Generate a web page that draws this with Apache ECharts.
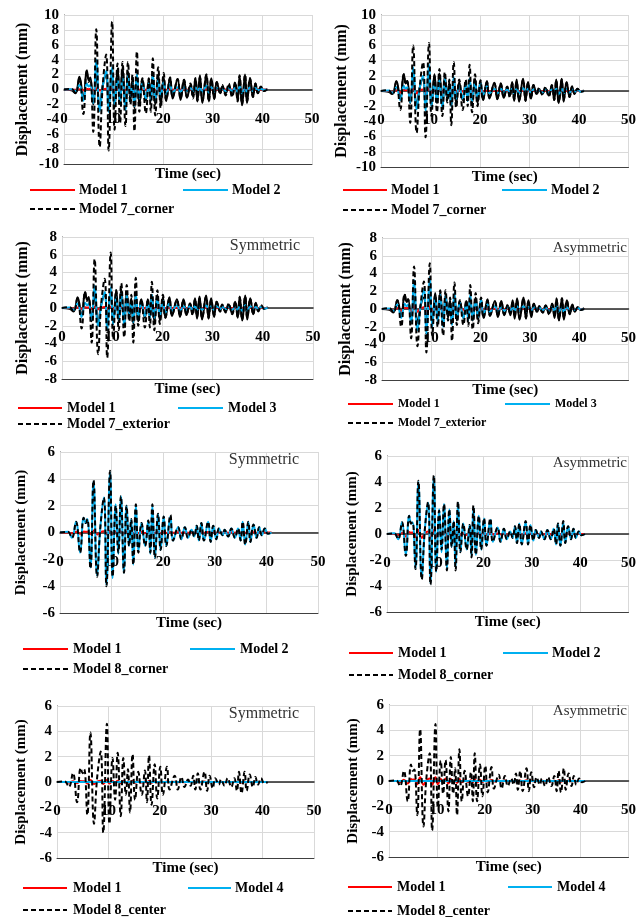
<!DOCTYPE html>
<html><head><meta charset="utf-8">
<script src="https://cdn.jsdelivr.net/npm/echarts@6/dist/echarts.min.js"></script>
<style>html,body{margin:0;padding:0;background:#fff}#c{width:639px;height:917px}</style>
</head><body><div id="c"></div>
<script>
// ---- shared time instants (s) of the read extrema ----
const T = [0,1.5,2.3,3.1,3.9,4.6,5.0,5.3,5.9,6.5,
 7.2,7.8,8.5,9.0,9.7,10.2,10.8,11.3,11.8,12.4,
 12.9,13.4,13.8,14.2,14.7,15.2,15.8,16.5,17.1,17.5,
 17.9,18.4,19.0,19.5,20.1,20.6,21.4,21.9,22.9,23.5,
 24.2,24.8,25.5,26.0,26.5,26.9,27.4,27.9,28.7,29.2,
 29.7,30.3,30.8,31.5,31.9,32.6,33.2,33.9,34.5,35.0,
 35.4,35.9,36.5,36.9,37.5,38.1,38.6,39.1,39.7,40.3,
 41.0];
const M4T = [0, 41];
const xTicks = [0, 10, 20, 30, 40, 50];

// ---- Model 1 (red) ----
const m1_sym = [0,0,-0.05,0.05,-0.1,0.08,0.05,0.06,-0.12,0.15,
 -0.15,0.02,0.1,-0.15,0.15,-0.12,0.08,-0.06,0.1,-0.1,
 0.08,-0.04,0.04,-0.08,0.08,-0.05,0.03,-0.04,0.03,-0.05,
 0.07,-0.06,0.05,-0.04,0.04,-0.03,0.04,-0.02,0.02,-0.02,
 0.02,-0.02,0.01,-0.01,0.02,-0.02,0.02,-0.02,0.03,-0.02,
 0.02,-0.02,0.01,-0.01,0.01,-0.01,0.01,-0.01,0.01,-0.02,
 0.03,-0.03,0.03,-0.02,0.02,-0.01,0.01,-0.01,0.01,0,
 0];
const m1_asym = [0,0,-0.1,0.1,-0.2,0.15,0.1,0.12,-0.25,0.3,
 -0.3,0.05,0.2,-0.3,0.3,-0.25,0.15,-0.12,0.2,-0.2,
 0.15,-0.08,0.08,-0.15,0.15,-0.1,0.06,-0.08,0.06,-0.1,
 0.14,-0.12,0.1,-0.08,0.08,-0.06,0.08,-0.04,0.04,-0.04,
 0.04,-0.04,0.02,-0.02,0.04,-0.04,0.04,-0.04,0.05,-0.04,
 0.04,-0.04,0.02,-0.02,0.02,-0.02,0.02,-0.02,0.02,-0.04,
 0.05,-0.05,0.05,-0.04,0.04,-0.02,0.02,-0.02,0.02,0,
 0];

// ---- Panel 1 ----
const p1_model2 = [0,0.05,-0.2,0.6,-1.5,0.8,0.4,0.6,-1.8,4.0,
 -2.9,0.3,2.5,-3.0,3.0,-2.0,1.5,-1.6,1.6,-2.8,
 1.8,-0.8,0.8,-2.2,2.0,-1.2,0.8,-1.2,0.8,-1.5,
 2.0,-1.5,1.2,-1.0,1.0,-0.6,0.7,-0.4,0.3,-0.3,
 0.3,-0.2,0.2,-0.2,0.3,-0.3,0.4,-0.3,0.5,-0.4,
 0.3,-0.3,0.2,-0.1,0.1,-0.2,0.2,-0.2,0.2,-0.3,
 0.4,-0.5,0.5,-0.4,0.3,-0.2,0.2,-0.1,0.1,-0.05,
 0];
const p1_model7 = [0,0.1,-0.5,1.5,-3.3,2.5,1.0,1.5,-5.7,8.1,
 -7.7,0.5,4.7,-8.2,9.1,-5.4,3.5,-4.5,3.7,-4.9,
 3.7,-2.0,2.0,-5.6,5.1,-3.0,1.5,-3.2,1.5,-3.0,
 4.2,-3.5,3.0,-2.5,2.2,-1.5,1.6,-1.0,1.4,-1.2,
 1.3,-1.0,0.8,-1.2,1.5,-1.5,1.6,-1.5,2.0,-1.6,
 1.4,-1.2,1.0,-0.6,0.6,-0.8,0.8,-1.0,1.0,-1.6,
 1.9,-2.0,2.0,-1.6,1.5,-1.0,0.8,-0.5,0.4,-0.2,
 0];
const p1_solid = [0,-0.1,-0.5,1.7,-1.2,2.6,1.2,1.6,-2.0,2.0,
 -2.5,0.5,2.0,-2.0,2.5,-2.5,2.8,-2.0,3.0,-2.5,
 2.5,-1.5,1.5,-2.5,2.0,-2.0,1.4,-1.5,1.3,-1.5,
 2.0,-2.0,2.0,-2.0,1.6,-1.5,1.6,-1.2,1.4,-1.4,
 1.3,-1.1,0.6,-0.9,1.5,-1.6,1.9,-1.8,2.0,-1.6,
 1.5,-1.3,1.0,-0.5,0.4,-0.5,0.5,-0.8,0.9,-1.5,
 1.8,-2.1,2.0,-1.8,1.5,-1.0,0.8,-0.5,0.3,-0.2,
 0.1];

// ---- Panel 2 ----
const p2_model2 = [0,0.05,-0.2,0.5,-1.2,0.7,0.3,0.5,-1.5,3.1,
 -2.4,0.3,2.0,-2.6,3.5,-2.0,1.2,-1.4,1.4,-2.3,
 1.6,-0.7,0.7,-2.0,1.8,-1.0,0.7,-1.0,0.7,-1.3,
 1.6,-1.3,1.1,-0.9,1.0,-0.5,0.6,-0.3,0.3,-0.3,
 0.3,-0.2,0.2,-0.2,0.3,-0.3,0.3,-0.3,0.4,-0.3,
 0.3,-0.2,0.2,-0.1,0.1,-0.2,0.2,-0.2,0.2,-0.3,
 0.3,-0.4,0.4,-0.3,0.3,-0.2,0.2,-0.1,0.1,-0.05,
 0];
const p2_model7 = [0,0.1,-0.5,1.2,-2.5,2.2,1.0,1.3,-4.2,6.0,
 -5.5,0.4,3.8,-6.1,6.3,-3.3,2.0,-2.8,2.9,-3.3,
 2.5,-1.5,1.5,-4.5,3.8,-2.2,1.5,-2.5,1.5,-2.0,
 3.45,-2.8,2.2,-2.0,1.4,-1.2,1.2,-0.8,1.0,-1.0,
 1.0,-0.8,0.6,-0.8,1.0,-1.1,1.2,-1.2,1.5,-1.3,
 1.1,-1.0,0.8,-0.5,0.4,-0.5,0.5,-0.7,0.8,-1.2,
 1.4,-1.5,1.5,-1.2,1.1,-0.8,0.6,-0.4,0.3,-0.1,
 0];
const p2_solid = [0,-0.1,-0.4,1.3,-1.0,2.2,1.0,1.3,-1.6,1.7,
 -2.0,0.4,1.6,-1.6,2.0,-2.0,2.2,-1.6,2.3,-2.0,
 2.0,-1.2,1.2,-2.0,1.6,-1.6,1.2,-1.2,1.1,-1.3,
 1.6,-1.6,1.6,-1.6,1.3,-1.2,1.3,-1.0,1.1,-1.1,
 1.0,-0.9,0.5,-0.7,1.2,-1.3,1.5,-1.4,1.6,-1.3,
 1.2,-1.0,0.8,-0.4,0.3,-0.4,0.4,-0.6,0.7,-1.2,
 1.5,-1.6,1.6,-1.4,1.2,-0.8,0.6,-0.4,0.3,-0.1,
 0.1];

// ---- Panel 3 ----
const p3_model3 = [0,0.05,-0.2,0.5,-1.0,0.6,0.3,0.5,-1.3,2.5,
 -2.0,0.2,1.8,-2.5,2.3,-1.8,1.2,-1.3,1.6,-2.0,
 1.4,-0.6,0.6,-1.6,1.5,-0.9,0.6,-0.9,0.6,-1.1,
 1.5,-1.1,0.9,-0.8,0.8,-0.5,0.5,-0.3,0.3,-0.3,
 0.2,-0.2,0.2,-0.2,0.2,-0.2,0.3,-0.2,0.3,-0.3,
 0.2,-0.2,0.2,-0.1,0.1,-0.1,0.1,-0.2,0.2,-0.2,
 0.3,-0.3,0.3,-0.3,0.2,-0.2,0.1,-0.1,0.1,-0.05,
 0];
const p3_model7 = [0,0.1,-0.4,1.1,-2.3,1.8,0.8,1.2,-3.9,5.5,
 -5.2,0.4,3.3,-5.6,6.25,-3.5,2.0,-2.5,2.8,-3.3,
 2.6,-1.5,1.5,-3.9,3.4,-2.0,1.0,-2.2,1.0,-2.2,
 2.95,-2.5,2.0,-1.8,1.5,-1.1,1.1,-0.8,0.9,-0.9,
 0.9,-0.7,0.5,-0.8,1.0,-1.0,1.1,-1.1,1.3,-1.1,
 0.9,-0.8,0.7,-0.4,0.4,-0.5,0.5,-0.7,0.7,-1.0,
 1.2,-1.3,1.3,-1.1,1.0,-0.7,0.5,-0.3,0.3,-0.1,
 0];
const p3_solid = [0,-0.1,-0.4,1.2,-0.9,1.8,0.9,1.2,-1.5,1.5,
 -1.8,0.4,1.5,-1.5,1.8,-1.8,2.0,-1.5,2.1,-1.8,
 1.8,-1.1,1.1,-1.8,1.5,-1.5,1.0,-1.1,1.0,-1.1,
 1.5,-1.5,1.5,-1.4,1.2,-1.1,1.2,-0.9,1.0,-1.0,
 1.0,-0.8,0.5,-0.7,1.1,-1.2,1.3,-1.3,1.4,-1.2,
 1.1,-1.0,0.7,-0.4,0.3,-0.4,0.4,-0.6,0.7,-1.1,
 1.3,-1.4,1.4,-1.3,1.1,-0.7,0.6,-0.4,0.2,-0.1,
 0.1];

// ---- Panel 4 ----
const p4_model3 = [0,0.05,-0.2,0.5,-1.0,0.6,0.3,0.5,-1.5,3.3,
 -2.4,0.2,2.2,-2.8,3.6,-2.0,1.3,-1.4,1.6,-2.0,
 1.5,-0.6,0.6,-1.8,1.8,-1.0,0.7,-1.0,0.6,-1.3,
 1.6,-1.2,1.0,-0.9,1.0,-0.5,0.5,-0.3,0.3,-0.3,
 0.2,-0.2,0.2,-0.2,0.2,-0.2,0.3,-0.2,0.3,-0.3,
 0.2,-0.2,0.2,-0.1,0.1,-0.1,0.1,-0.2,0.2,-0.2,
 0.3,-0.3,0.3,-0.3,0.2,-0.2,0.1,-0.1,0.1,-0.05,
 0];
const p4_model7 = [0,0.1,-0.4,1.0,-2.0,1.7,0.8,1.1,-3.3,4.8,
 -4.2,0.3,3.1,-4.9,5.15,-3.0,1.6,-2.0,2.1,-3.0,
 2.1,-1.3,1.3,-3.6,3.0,-1.8,1.0,-1.8,1.0,-1.9,
 2.7,-2.3,1.8,-1.6,1.3,-1.0,1.0,-0.7,0.8,-0.8,
 0.8,-0.6,0.5,-0.7,0.9,-0.9,1.0,-1.0,1.2,-1.0,
 0.8,-0.7,0.6,-0.4,0.3,-0.4,0.4,-0.6,0.6,-0.9,
 1.1,-1.2,1.2,-1.0,0.9,-0.6,0.5,-0.3,0.2,-0.1,
 0];
const p4_solid = [0,-0.1,-0.4,1.0,-0.8,1.6,0.8,1.1,-1.3,1.4,
 -1.6,0.3,1.3,-1.4,1.6,-1.6,1.8,-1.3,1.9,-1.6,
 1.6,-1.0,1.0,-1.6,1.4,-1.3,0.9,-1.0,0.9,-1.0,
 1.3,-1.3,1.3,-1.2,1.1,-1.0,1.1,-0.8,0.9,-0.9,
 0.9,-0.7,0.4,-0.6,1.0,-1.1,1.2,-1.2,1.3,-1.1,
 1.0,-0.9,0.6,-0.3,0.3,-0.4,0.4,-0.5,0.6,-1.0,
 1.2,-1.3,1.2,-1.2,1.0,-0.6,0.5,-0.3,0.2,-0.1,
 0.1];

// ---- Panel 5 ----
const p5_model2 = [0,0.05,-0.4,0.8,-1.5,1.1,0.7,1.0,-2.6,3.8,
 -3.2,0.3,2.6,-3.9,4.5,-3.4,2.1,-1.6,2.7,-3.0,
 2.0,-1.0,1.0,-2.4,2.0,-1.4,0.7,-1.0,0.9,-1.6,
 2.0,-1.9,1.4,-1.3,1.2,-1.0,1.2,-0.6,0.4,-0.5,
 0.4,-0.4,0.2,-0.3,0.5,-0.6,0.7,-0.6,0.8,-0.7,
 0.5,-0.5,0.3,-0.2,0.2,-0.3,0.3,-0.4,0.3,-0.6,
 0.8,-0.9,0.8,-0.7,0.6,-0.4,0.4,-0.2,0.3,-0.1,
 0];
const p5_model8 = [0,0.05,-0.4,0.8,-1.5,1.1,0.7,1.0,-2.7,3.9,
 -3.3,0.3,2.6,-4.0,4.6,-3.3,2.0,-1.5,2.7,-3.0,
 2.0,-1.0,1.0,-2.4,2.1,-1.5,0.7,-1.0,0.9,-1.5,
 2.1,-1.9,1.4,-1.3,1.2,-1.0,1.3,-0.6,0.4,-0.5,
 0.4,-0.4,0.2,-0.3,0.5,-0.6,0.7,-0.6,0.8,-0.7,
 0.5,-0.5,0.3,-0.2,0.2,-0.3,0.3,-0.4,0.3,-0.6,
 0.8,-0.9,0.8,-0.7,0.6,-0.4,0.4,-0.2,0.3,-0.1,
 0];

// ---- Panel 6 ----
const p6_model2 = [0,0.05,-0.4,0.9,-1.6,1.4,0.8,0.9,-2.6,4.0,
 -3.4,0.2,2.4,-3.8,4.4,-2.9,1.9,-1.4,2.3,-2.7,
 1.9,-1.0,1.0,-2.6,2.4,-1.4,0.8,-1.2,0.7,-1.7,
 2.1,-1.6,1.4,-1.2,1.2,-0.9,1.1,-0.6,0.5,-0.6,
 0.4,-0.4,0.2,-0.3,0.6,-0.7,0.8,-0.8,0.9,-0.8,
 0.7,-0.5,0.3,-0.3,0.2,-0.4,0.3,-0.4,0.4,-0.8,
 0.8,-0.9,0.9,-0.7,0.6,-0.4,0.4,-0.3,0.2,-0.1,
 0];
const p6_model8 = [0,0.05,-0.4,0.9,-1.7,1.4,0.8,0.9,-2.7,4.1,
 -3.5,0.2,2.45,-3.9,4.5,-2.9,1.8,-1.2,2.3,-2.8,
 1.9,-1.0,1.0,-2.8,2.5,-1.4,0.8,-1.2,0.7,-1.8,
 2.2,-1.6,1.4,-1.2,1.2,-0.9,1.2,-0.6,0.5,-0.6,
 0.4,-0.4,0.2,-0.3,0.6,-0.7,0.8,-0.8,1.0,-0.8,
 0.7,-0.5,0.3,-0.3,0.2,-0.4,0.3,-0.4,0.4,-0.8,
 0.8,-0.9,1.0,-0.7,0.6,-0.4,0.4,-0.3,0.2,-0.1,
 0];

// ---- Panel 7 ----
const p7_model4 = [0, 0];
const p7_model8 = [0,0.05,-0.4,0.7,-1.6,1.1,0.7,1.0,-2.6,3.9,
 -3.3,0.3,2.4,-4.0,4.6,-3.3,1.9,-1.4,2.3,-2.7,
 1.9,-1.0,1.0,-2.4,2.2,-1.4,0.8,-1.0,0.9,-1.6,
 2.1,-1.8,1.4,-1.3,1.2,-1.0,1.2,-0.6,0.5,-0.6,
 0.4,-0.4,0.2,-0.3,0.5,-0.6,0.7,-0.6,0.8,-0.7,
 0.5,-0.5,0.3,-0.2,0.2,-0.3,0.3,-0.4,0.3,-0.7,
 0.8,-0.9,0.8,-0.7,0.6,-0.4,0.4,-0.2,0.3,-0.1,
 0];

// ---- Panel 8 ----
const p8_model4 = [0, 0];
const p8_model8 = [0,0.05,-0.4,0.8,-1.6,1.3,0.8,0.9,-2.7,4.1,
 -3.6,0.2,2.2,-3.9,4.5,-2.1,1.6,-1.0,1.65,-2.4,
 1.9,-1.0,1.0,-2.7,2.5,-1.6,0.8,-1.2,0.7,-1.6,
 2.2,-1.6,1.3,-1.2,1.2,-0.9,1.1,-0.6,0.5,-0.6,
 0.4,-0.4,0.2,-0.3,0.6,-0.7,0.8,-0.8,1.0,-0.8,
 0.7,-0.5,0.3,-0.3,0.2,-0.4,0.3,-0.4,0.4,-0.8,
 0.8,-0.9,1.0,-0.7,0.6,-0.4,0.4,-0.3,0.2,-0.1,
 0];

// ================= layout / styling =================
const FF = 'Liberation Serif';
const STY = {
  red:   {color:'#ff0000', width:2, z:3},
  blue:  {color:'#00b0f0', width:2, z:4},
  dash:  {color:'#000000', width:2, type:[5,3], z:5},
  solid: {color:'#000000', width:2, z:2}
};
const panels = [
  {grid:{left:64,top:15,width:248,height:149}, y:[-10,10], yGap:33, yFs:16, tag:null,
   ser:[['', T, p1_solid,'solid'],['Model 1',T,m1_sym,'red'],['Model 2',T,p1_model2,'blue'],['Model 7_corner',T,p1_model7,'dash']],
   leg:{fs:14, rows:[[30,75,190,79,'Model 1','red'],[183,228,190,232,'Model 2','blue'],[30,75,209,79,'Model 7_corner','dash']]}},
  {grid:{left:381,top:15,width:250,height:152}, y:[-10,10], yGap:31, yFs:16, tag:null,
   ser:[['', T, p2_solid,'solid'],['Model 1',T,m1_asym,'red'],['Model 2',T,p2_model2,'blue'],['Model 7_corner',T,p2_model7,'dash']],
   leg:{fs:14, rows:[[343,387,190,391,'Model 1','red'],[502,547,190,551,'Model 2','blue'],[343,387,210,391,'Model 7_corner','dash']]}},
  {grid:{left:62,top:237,width:251,height:142}, y:[-8,8], yGap:31, yFs:16, tag:['Symmetric',300,246,16],
   ser:[['', T, p3_solid,'solid'],['Model 1',T,m1_sym,'red'],['Model 3',T,p3_model3,'blue'],['Model 7_exterior',T,p3_model7,'dash']],
   leg:{fs:14, rows:[[18,62,408,67,'Model 1','red'],[178,223,408,228,'Model 3','blue'],[18,62,424,67,'Model 7_exterior','dash']]}},
  {grid:{left:382,top:238,width:249,height:142}, y:[-8,8], yGap:28, yFs:16, tag:['Asymmetric',627,248,15],
   ser:[['', T, p4_solid,'solid'],['Model 1',T,m1_asym,'red'],['Model 3',T,p4_model3,'blue'],['Model 7_exterior',T,p4_model7,'dash']],
   leg:{fs:12, rows:[[348,393,404,398,'Model 1','red'],[505,550,404,555,'Model 3','blue'],[348,393,423,398,'Model 7_exterior','dash']]}},
  {grid:{left:60,top:452,width:258,height:161}, y:[-6,6], yGap:31, yFs:15, tag:['Symmetric',299,460,16],
   ser:[['Model 1',T,m1_sym,'red'],['Model 2',T,p5_model2,'blue'],['Model 8_corner',T,p5_model8,'dash']],
   leg:{fs:14, rows:[[23,68,649,73,'Model 1','red'],[190,235,649,240,'Model 2','blue'],[23,68,669,73,'Model 8_corner','dash']]}},
  {grid:{left:387,top:456,width:245,height:156}, y:[-6,6], yGap:27, yFs:15, tag:['Asymmetric',627,463,15],
   ser:[['Model 1',T,m1_asym,'red'],['Model 2',T,p6_model2,'blue'],['Model 8_corner',T,p6_model8,'dash']],
   leg:{fs:14, rows:[[349,393,653,398,'Model 1','red'],[503,548,653,552,'Model 2','blue'],[349,393,675,398,'Model 8_corner','dash']]}},
  {grid:{left:57,top:706,width:257,height:152}, y:[-6,6], yGap:28, yFs:15, tag:['Symmetric',299,714,16],
   ser:[['Model 1',T,m1_sym,'red'],['Model 4',M4T,p7_model4,'blue'],['Model 8_center',T,p7_model8,'dash']],
   leg:{fs:14, rows:[[23,67,888,73,'Model 1','red'],[188,231,888,235,'Model 4','blue'],[23,67,910,73,'Model 8_center','dash']]}},
  {grid:{left:389,top:705,width:245,height:152}, y:[-6,6], yGap:28, yFs:15, tag:['Asymmetric',627,711,15],
   ser:[['Model 1',T,m1_asym,'red'],['Model 4',M4T,p8_model4,'blue'],['Model 8_center',T,p8_model8,'dash']],
   leg:{fs:14, rows:[[348,392,887,397,'Model 1','red'],[508,552,887,557,'Model 4','blue'],[348,392,911,397,'Model 8_center','dash']]}}
];

const grid=[], xAxis=[], yAxis=[], series=[], graphic=[];
panels.forEach((p,i)=>{
  grid.push(Object.assign({containLabel:false}, p.grid));
  // axis that crosses at y = 0 (symmetric y ranges: zero is mid-height)
  xAxis.push({gridIndex:i, type:'value', min:xTicks[0], max:xTicks[xTicks.length-1], interval:10,
    position:'bottom', offset:-p.grid.height/2,
    axisLine:{show:true,onZero:false,lineStyle:{color:'#262626',width:1.5}},
    axisTick:{show:false},
    axisLabel:{fontFamily:FF,fontWeight:'bold',fontSize:15,color:'#000',margin:22},
    splitLine:{show:true,lineStyle:{color:'#d9d9d9',width:1}}, z:1});
  xAxis.push({gridIndex:i, type:'value', min:0, max:50, position:'bottom',
    axisLine:{show:true,onZero:false,lineStyle:{color:'#404040',width:1}},
    axisTick:{show:false}, axisLabel:{show:false}, splitLine:{show:false},
    name:'Time (sec)', nameLocation:'middle', nameGap:3,
    nameTextStyle:{fontFamily:FF,fontWeight:'bold',fontSize:15,color:'#000',verticalAlign:'top'}});
  yAxis.push({gridIndex:i, type:'value', min:p.y[0], max:p.y[1], interval:2,
    axisLine:{show:true,onZero:false,lineStyle:{color:'#404040',width:1}},
    axisTick:{show:false},
    axisLabel:{fontFamily:FF,fontWeight:'bold',fontSize:15,color:'#000',margin:5},
    splitLine:{show:true,lineStyle:{color:'#d9d9d9',width:1}},
    name:'Displacement (mm)', nameLocation:'middle', nameRotate:90, nameGap:p.yGap,
    nameTextStyle:{fontFamily:FF,fontWeight:'bold',fontSize:p.yFs,color:'#000'}});
  p.ser.forEach(s=>{
    const st = STY[s[3]];
    series.push({type:'line', name:s[0], xAxisIndex:2*i, yAxisIndex:i,
      data:s[1].map((t,k)=>[t, s[2][k]]),
      smooth:0.45, symbol:'none', z:st.z, silent:true,
      lineStyle:{color:st.color,width:st.width,type:st.type||'solid'}});
  });
  p.leg.rows.forEach(r=>{
    const st = STY[r[5]];
    graphic.push({type:'line', shape:{x1:r[0],y1:r[2],x2:r[1],y2:r[2]},
      style:{stroke:st.color,lineWidth:2,lineDash:st.type||null}});
    graphic.push({type:'text', style:{x:r[3],y:r[2],text:r[4],fill:'#000',
      font:'bold '+p.leg.fs+'px "'+FF+'"', verticalAlign:'middle', align:'left'}});
  });
  if(p.tag){
    graphic.push({type:'text', style:{x:p.tag[1],y:p.tag[2],text:p.tag[0],fill:'#333',
      font:p.tag[3]+'px "'+FF+'"', verticalAlign:'middle', align:'right'}, z:10});
  }
});

const chart = echarts.init(document.getElementById('c'), null, {renderer:'canvas'});
chart.setOption({animation:false, backgroundColor:'#fff', grid, xAxis, yAxis, series, graphic});
</script></body></html>
